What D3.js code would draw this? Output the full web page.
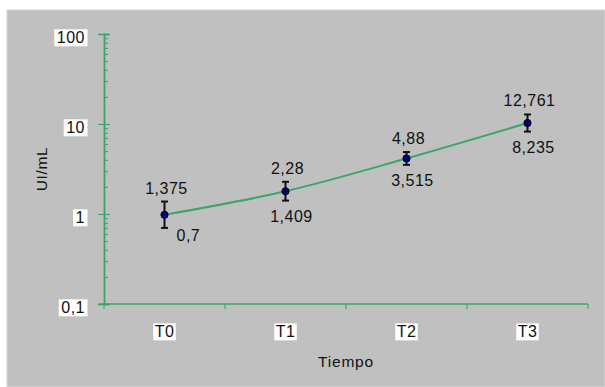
<!DOCTYPE html>
<html>
<head>
<meta charset="utf-8">
<script src="https://cdn.jsdelivr.net/npm/d3@7"></script>
<style>
  html, body { margin: 0; padding: 0; background: #ffffff; }
  svg { display: block; font-family: "Liberation Sans", Arial, Helvetica, sans-serif; }
</style>
</head>
<body>
<svg id="chart" width="605" height="387"></svg>
<script>
// Time points and measured titres (UI/mL), with the upper and lower limits of each error bar
const categories = ["T0", "T1", "T2", "T3"];
const meanValues = [0.98, 1.79, 4.14, 10.25];
const upperValues = [1.375, 2.28, 4.88, 12.761];
const lowerValues = [0.7, 1.409, 3.515, 8.235];
const yTickValues = [0.1, 1, 10, 100];
const yTickLabels = ["0,1", "1", "10", "100"];

// Placement of the lower-limit labels
const lowerLabelPlacement = ["right", "below", "below", "below"];

const GREEN = "#3ba56c";
const svg = d3.select("#chart");

// Grey chart area
svg.append("rect")
  .attr("x", 7).attr("y", 10)
  .attr("width", 598).attr("height", 377)
  .attr("fill", "#c0c0c0")
  .attr("stroke", "#d4d4d4").attr("stroke-width", 1);

const plotLeft = 104, plotRight = 588, plotTop = 34, plotBottom = 304;

const x = d3.scaleBand().domain(categories).range([plotLeft, plotRight]).padding(0);
const y = d3.scaleLog().domain([0.1, 100]).range([plotBottom, plotTop]);
const cx = c => x(c) + x.bandwidth() / 2;
const fmt = v => String(v).replace(".", ",");

// Minor log ticks (2..9 within each decade), pointing inwards
const minorTicks = [];
[0.1, 1, 10].forEach(d => { for (let k = 2; k <= 9; k++) minorTicks.push(d * k); });

const yMinor = svg.append("g").attr("transform", `translate(${plotLeft},0)`)
  .call(d3.axisRight(y).tickValues(minorTicks).tickSize(4).tickFormat(""));
const yMajorIn = svg.append("g").attr("transform", `translate(${plotLeft},0)`)
  .call(d3.axisRight(y).tickValues(yTickValues).tickSize(6).tickFormat(""));
const yAxis = svg.append("g").attr("transform", `translate(${plotLeft},0)`)
  .call(d3.axisLeft(y).tickValues(yTickValues).tickSize(6).tickPadding(13)
    .tickFormat((d, i) => yTickLabels[i]));

[yMinor, yMajorIn, yAxis].forEach(g => {
  g.select(".domain").attr("stroke", GREEN).attr("stroke-width", 1.3);
  g.selectAll(".tick line").attr("stroke", GREEN).attr("stroke-width", 1.1);
});
yAxis.selectAll(".tick text")
  .attr("font-size", 16).attr("fill", "#111").attr("dy", "0.55em")
  .attr("letter-spacing", 0.5)
  .attr("font-family", "'Liberation Sans', Arial, sans-serif");

// X axis: labels centred in each band, tick marks at band edges
const xAxis = svg.append("g").attr("transform", `translate(0,${plotBottom})`)
  .call(d3.axisBottom(x).tickSize(0).tickPadding(22));
xAxis.select(".domain").attr("stroke", GREEN).attr("stroke-width", 1.3)
  .attr("d", `M${plotLeft - 5},0H${plotRight}`);
xAxis.selectAll(".tick text")
  .attr("font-size", 16).attr("fill", "#111")
  .attr("letter-spacing", 0.4)
  .attr("font-family", "'Liberation Sans', Arial, sans-serif");

const edges = categories.map(c => x(c)).concat([x(categories[categories.length - 1]) + x.bandwidth()]);
svg.append("g").selectAll("line").data(edges).join("line")
  .attr("x1", d => d).attr("x2", d => d)
  .attr("y1", plotBottom).attr("y2", plotBottom + 5)
  .attr("stroke", GREEN).attr("stroke-width", 1.1);

// White boxes behind the axis tick labels
function boxLabels(sel, padX, padY) {
  sel.each(function () {
    const b = this.getBBox();
    d3.select(this.parentNode).insert("rect", "text")
      .attr("x", b.x - padX).attr("y", b.y - padY)
      .attr("width", b.width + 2 * padX).attr("height", b.height + 2 * padY)
      .attr("fill", "#ffffff");
  });
}
boxLabels(yAxis.selectAll(".tick text"), 2.5, 0);
boxLabels(xAxis.selectAll(".tick text"), 1.5, 0);

// Axis titles
svg.append("text")
  .attr("x", 346).attr("y", 367)
  .attr("text-anchor", "middle")
  .attr("font-size", 15.5).attr("fill", "#111")
  .attr("letter-spacing", 0.8)
  .text("Tiempo");
svg.append("text")
  .attr("transform", `translate(47,${(plotTop + plotBottom) / 2}) rotate(-90)`)
  .attr("text-anchor", "middle")
  .attr("font-size", 15.5).attr("fill", "#111")
  .attr("letter-spacing", 0.6)
  .text("UI/mL");

// Smoothed series line (in log space)
const series = categories.map((c, i) => ({ c, m: meanValues[i], hi: upperValues[i], lo: lowerValues[i] }));
svg.append("path")
  .datum(series)
  .attr("fill", "none")
  .attr("stroke", GREEN).attr("stroke-width", 2)
  .attr("d", d3.line().x(d => cx(d.c)).y(d => y(d.m)).curve(d3.curveCatmullRom.alpha(0.5)));

// Error bars
const eb = svg.append("g").attr("stroke", "#111").attr("stroke-width", 2);
series.forEach(d => {
  const px = cx(d.c);
  eb.append("line").attr("x1", px).attr("x2", px).attr("y1", y(d.hi)).attr("y2", y(d.lo));
  eb.append("line").attr("x1", px - 3.5).attr("x2", px + 3.5).attr("y1", y(d.hi)).attr("y2", y(d.hi));
  eb.append("line").attr("x1", px - 3.5).attr("x2", px + 3.5).attr("y1", y(d.lo)).attr("y2", y(d.lo));
});

// Markers
svg.append("g").selectAll("circle").data(series).join("circle")
  .attr("cx", d => cx(d.c)).attr("cy", d => y(d.m)).attr("r", 3.6)
  .attr("fill", "#000080").attr("stroke", "#000").attr("stroke-width", 1);

// Value labels for the error-bar limits
const labels = svg.append("g").attr("font-size", 16).attr("fill", "#111").attr("letter-spacing", 0.5);
series.forEach((d, i) => {
  const px = cx(d.c);
  labels.append("text")
    .attr("x", px + 2).attr("y", y(d.hi) - 8)
    .attr("text-anchor", "middle")
    .text(fmt(d.hi));
  if (lowerLabelPlacement[i] === "right") {
    labels.append("text")
      .attr("x", px + 12).attr("y", y(d.lo) + 13)
      .attr("text-anchor", "start")
      .text(fmt(d.lo));
  } else {
    labels.append("text")
      .attr("x", px + 6).attr("y", y(d.lo) + 21)
      .attr("text-anchor", "middle")
      .text(fmt(d.lo));
  }
});
</script>
</body>
</html>
